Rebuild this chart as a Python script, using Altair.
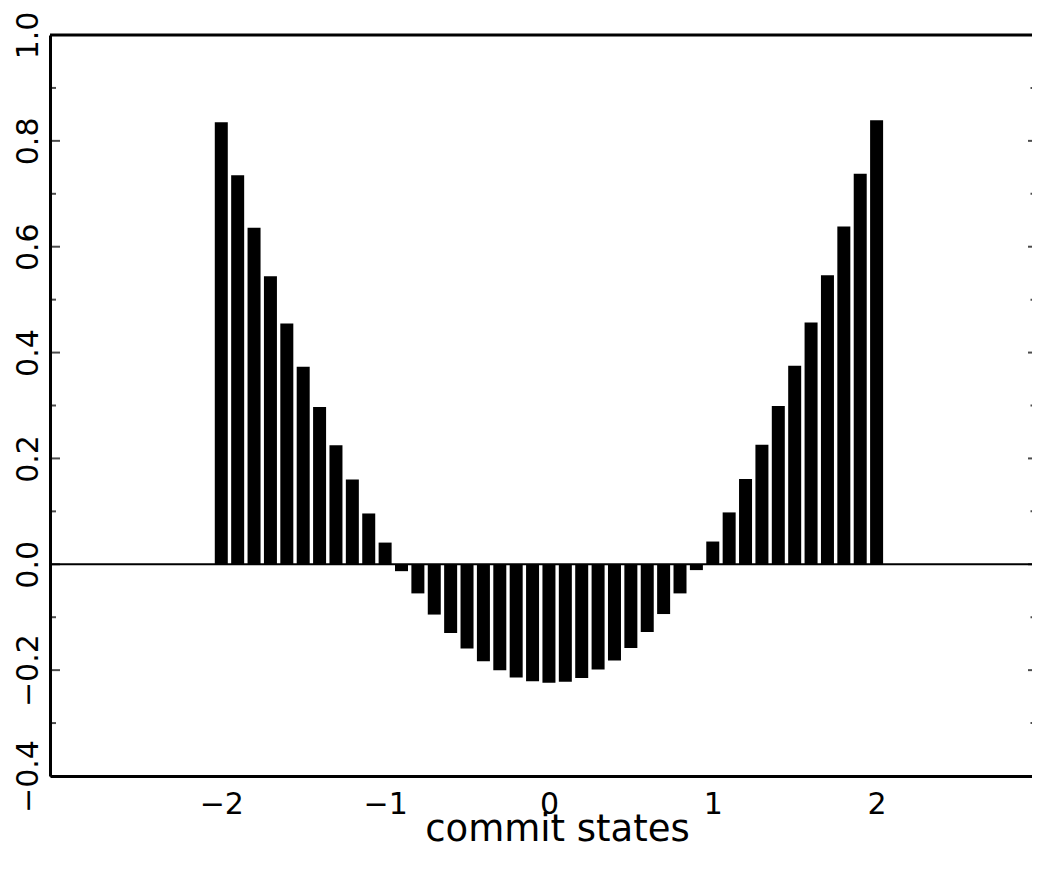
import altair as alt
import pandas as pd

# commit states (x) and their values (bar heights)
states = [-2.0, -1.9, -1.8, -1.7, -1.6, -1.5, -1.4, -1.3, -1.2, -1.1, -1.0,
          -0.9, -0.8, -0.7, -0.6, -0.5, -0.4, -0.3, -0.2, -0.1, 0.0,
          0.1, 0.2, 0.3, 0.4, 0.5, 0.6, 0.7, 0.8, 0.9,
          1.0, 1.1, 1.2, 1.3, 1.4, 1.5, 1.6, 1.7, 1.8, 1.9, 2.0]
values = [0.835, 0.735, 0.636, 0.544, 0.455, 0.373, 0.297, 0.225, 0.160, 0.096, 0.041,
          -0.013, -0.055, -0.095, -0.130, -0.159, -0.183, -0.200, -0.214, -0.221, -0.224,
          -0.222, -0.215, -0.199, -0.182, -0.158, -0.128, -0.094, -0.055, -0.011,
          0.043, 0.098, 0.161, 0.226, 0.299, 0.375, 0.457, 0.546, 0.638, 0.738, 0.839]

x_tick_labels = [-2, -1, 0, 1, 2]
y_major = [-0.4, -0.2, 0.0, 0.2, 0.4, 0.6, 0.8, 1.0]
y_minor = [-0.3, -0.1, 0.1, 0.3, 0.5, 0.7, 0.9]
y_top = 1.0

W, H = 982, 741
FONT = "DejaVu Sans"

df = pd.DataFrame({"state": states, "value": values})
major_df = pd.DataFrame({"t": y_major})
minor_df = pd.DataFrame({"t": y_minor})

# the frame's right edge lies just outside the picture
xscale = alt.Scale(domain=[-3.015, 2.918], nice=False, zero=False)
yscale = alt.Scale(domain=[-0.4, 1.0], nice=False, zero=False)

bars = alt.Chart(df).mark_bar(size=13, color="black").encode(
    x=alt.X("state:Q", scale=xscale,
            axis=alt.Axis(values=x_tick_labels, format="d", title="commit states",
                          domain=True, domainColor="black", domainWidth=3,
                          ticks=False, tickSize=0, grid=False,
                          labelFont=FONT, labelFontSize=30, labelColor="black",
                          labelPadding=13, titleFont=FONT, titleFontSize=37,
                          titleFontWeight="normal", titleColor="black",
                          titleX=507, titleY=64, titleAlign="center",
                          titleBaseline="alphabetic")),
    y=alt.Y("value:Q", scale=yscale,
            axis=alt.Axis(values=y_major, format=".1f", title=None,
                          domain=True, domainColor="black", domainWidth=3,
                          ticks=False, tickSize=0, grid=False,
                          labelAngle=270, labelAlign="center", labelBaseline="alphabetic",
                          labelFont=FONT, labelFontSize=30, labelColor="black",
                          labelPadding=13)),
    y2=alt.datum(0),
)

top_frame = alt.Chart().mark_rule(color="black", strokeWidth=3).encode(y=alt.datum(y_top))
zero_line = alt.Chart().mark_rule(color="black", strokeWidth=2).encode(y=alt.datum(0))

left_major = alt.Chart(major_df).mark_tick(color="black", thickness=2, size=10).encode(
    y=alt.Y("t:Q", scale=yscale), x=alt.value(5))
left_minor = alt.Chart(minor_df).mark_tick(color="black", thickness=2, size=6).encode(
    y=alt.Y("t:Q", scale=yscale), x=alt.value(3))
right_major = alt.Chart(major_df).mark_tick(color="black", thickness=2, size=8).encode(
    y=alt.Y("t:Q", scale=yscale), x=alt.value(W))
right_minor = alt.Chart(minor_df).mark_tick(color="black", thickness=2, size=3).encode(
    y=alt.Y("t:Q", scale=yscale), x=alt.value(W))

chart = alt.layer(bars, top_frame, zero_line, left_major, left_minor,
                  right_major, right_minor).properties(
    width=W, height=H,
    autosize=alt.AutoSizeParams(type="none"),
    padding={"left": 42, "top": 27, "right": 0, "bottom": 80},
    background="white",
).configure_view(stroke=None)

chart.save("out.html", embed_options={"renderer": "svg", "actions": False})
